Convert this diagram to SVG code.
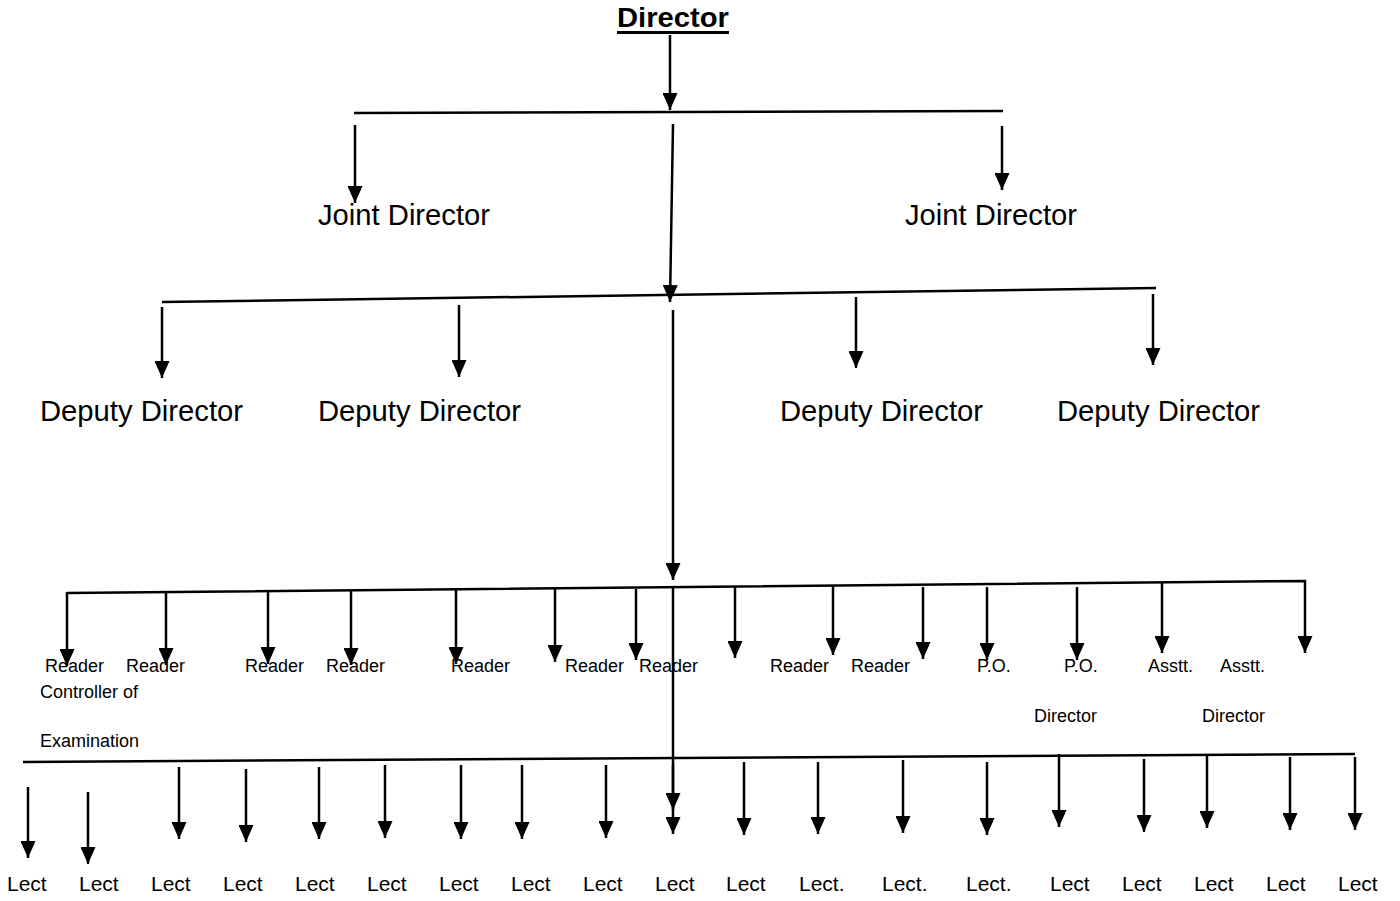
<svg xmlns="http://www.w3.org/2000/svg" width="1400" height="901" viewBox="0 0 1400 901">
<style>
text{font-family:"Liberation Sans",Arial,sans-serif;fill:#000}
.t0{font-size:28px;font-weight:bold}
.t1{font-size:29px}
.t2{font-size:18px}
.t3{font-size:21px}
.c line,.c path{stroke:#000;stroke-width:2.5;fill:none}
.c .a{marker-end:url(#ah)}
</style>
<defs>
<marker id="ah" markerUnits="userSpaceOnUse" markerWidth="17" markerHeight="15" refX="17" refY="7.5" orient="auto">
<path d="M0,0 L17,7.5 L0,15 z" fill="#000"/>
</marker>
</defs>
<rect width="1400" height="901" fill="#fff"/>
<g id="connectors" class="c">
<line class="a" x1="670" y1="35" x2="670" y2="110"/>
<line x1="354" y1="113" x2="1003" y2="111"/>
<line class="a" x1="355" y1="125" x2="355" y2="203"/>
<line class="a" x1="1002" y1="126" x2="1002" y2="190"/>
<line class="a" x1="673" y1="124" x2="670" y2="302"/>
<line x1="162" y1="302" x2="1156" y2="288"/>
<line class="a" x1="162" y1="307" x2="162" y2="378"/>
<line class="a" x1="459" y1="305" x2="459" y2="377"/>
<line class="a" x1="856" y1="297" x2="856" y2="368"/>
<line class="a" x1="1153" y1="294" x2="1153" y2="365"/>
<line class="a" x1="673" y1="310" x2="673" y2="580"/>
<path class="a" d="M67,593 L1305,581 L1305,653"/>
<line class="a" x1="67" y1="592" x2="67" y2="666"/>
<line class="a" x1="166" y1="592" x2="166" y2="665"/>
<line class="a" x1="268" y1="591" x2="268" y2="664"/>
<line class="a" x1="351" y1="590" x2="351" y2="665"/>
<line class="a" x1="456" y1="590" x2="456" y2="664"/>
<line class="a" x1="555" y1="589" x2="555" y2="662"/>
<line class="a" x1="636" y1="589" x2="636" y2="660"/>
<line class="a" x1="735" y1="587" x2="735" y2="658"/>
<line class="a" x1="833" y1="585" x2="833" y2="655"/>
<line class="a" x1="923" y1="587" x2="923" y2="659"/>
<line class="a" x1="987" y1="587" x2="987" y2="660"/>
<line class="a" x1="1077" y1="587" x2="1077" y2="660"/>
<line class="a" x1="1162" y1="583" x2="1162" y2="653"/>
<line class="a" x1="673" y1="587" x2="673" y2="810"/>
<line x1="23" y1="762" x2="1355" y2="754"/>
<line class="a" x1="28" y1="787" x2="28" y2="858"/>
<line class="a" x1="88" y1="792" x2="88" y2="864"/>
<line class="a" x1="179" y1="767" x2="179" y2="839"/>
<line class="a" x1="246" y1="769" x2="246" y2="842"/>
<line class="a" x1="319" y1="767" x2="319" y2="839"/>
<line class="a" x1="385" y1="765" x2="385" y2="838"/>
<line class="a" x1="461" y1="765" x2="461" y2="839"/>
<line class="a" x1="522" y1="765" x2="522" y2="839"/>
<line class="a" x1="606" y1="765" x2="606" y2="838"/>
<line class="a" x1="673" y1="765" x2="673" y2="834"/>
<line class="a" x1="744" y1="762" x2="744" y2="835"/>
<line class="a" x1="818" y1="762" x2="818" y2="834"/>
<line class="a" x1="903" y1="760" x2="903" y2="833"/>
<line class="a" x1="987" y1="762" x2="987" y2="835"/>
<line class="a" x1="1059" y1="754" x2="1059" y2="827"/>
<line class="a" x1="1144" y1="759" x2="1144" y2="832"/>
<line class="a" x1="1207" y1="756" x2="1207" y2="828"/>
<line class="a" x1="1290" y1="757" x2="1290" y2="830"/>
<line class="a" x1="1355" y1="757" x2="1355" y2="830"/>
</g>
<g id="director"><text class="t0" x="617" y="27" textLength="112" lengthAdjust="spacingAndGlyphs">Director</text><rect x="617" y="31" width="112" height="3" fill="#000"/></g>
<g id="joint1"><text class="t1" x="318" y="225" textLength="172" lengthAdjust="spacingAndGlyphs">Joint Director</text></g>
<g id="joint2"><text class="t1" x="905" y="225" textLength="172" lengthAdjust="spacingAndGlyphs">Joint Director</text></g>
<g id="deputy1"><text class="t1" x="40" y="421" textLength="203" lengthAdjust="spacingAndGlyphs">Deputy Director</text></g>
<g id="deputy2"><text class="t1" x="318" y="421" textLength="203" lengthAdjust="spacingAndGlyphs">Deputy Director</text></g>
<g id="deputy3"><text class="t1" x="780" y="421" textLength="203" lengthAdjust="spacingAndGlyphs">Deputy Director</text></g>
<g id="deputy4"><text class="t1" x="1057" y="421" textLength="203" lengthAdjust="spacingAndGlyphs">Deputy Director</text></g>
<g id="reader1"><text class="t2" x="45" y="672">Reader</text></g>
<g id="reader2"><text class="t2" x="126" y="672">Reader</text></g>
<g id="reader3"><text class="t2" x="245" y="672">Reader</text></g>
<g id="reader4"><text class="t2" x="326" y="672">Reader</text></g>
<g id="reader5"><text class="t2" x="451" y="672">Reader</text></g>
<g id="reader6"><text class="t2" x="565" y="672">Reader</text></g>
<g id="reader7"><text class="t2" x="639" y="672">Reader</text></g>
<g id="reader8"><text class="t2" x="770" y="672">Reader</text></g>
<g id="reader9"><text class="t2" x="851" y="672">Reader</text></g>
<g id="po1"><text class="t2" x="977" y="672">P.O.</text></g>
<g id="po2"><text class="t2" x="1064" y="672">P.O.</text><text class="t2" x="1034" y="722">Director</text></g>
<g id="asstt1"><text class="t2" x="1148" y="672">Asstt.</text></g>
<g id="asstt2"><text class="t2" x="1220" y="672">Asstt.</text><text class="t2" x="1202" y="722">Director</text></g>
<g id="coe"><text class="t2" x="40" y="698">Controller of</text><text class="t2" x="40" y="747">Examination</text></g>
<g id="lect1"><text class="t3" x="7" y="891">Lect</text></g>
<g id="lect2"><text class="t3" x="79" y="891">Lect</text></g>
<g id="lect3"><text class="t3" x="151" y="891">Lect</text></g>
<g id="lect4"><text class="t3" x="223" y="891">Lect</text></g>
<g id="lect5"><text class="t3" x="295" y="891">Lect</text></g>
<g id="lect6"><text class="t3" x="367" y="891">Lect</text></g>
<g id="lect7"><text class="t3" x="439" y="891">Lect</text></g>
<g id="lect8"><text class="t3" x="511" y="891">Lect</text></g>
<g id="lect9"><text class="t3" x="583" y="891">Lect</text></g>
<g id="lect10"><text class="t3" x="655" y="891">Lect</text></g>
<g id="lect11"><text class="t3" x="726" y="891">Lect</text></g>
<g id="lect12"><text class="t3" x="799" y="891">Lect.</text></g>
<g id="lect13"><text class="t3" x="882" y="891">Lect.</text></g>
<g id="lect14"><text class="t3" x="966" y="891">Lect.</text></g>
<g id="lect15"><text class="t3" x="1050" y="891">Lect</text></g>
<g id="lect16"><text class="t3" x="1122" y="891">Lect</text></g>
<g id="lect17"><text class="t3" x="1194" y="891">Lect</text></g>
<g id="lect18"><text class="t3" x="1266" y="891">Lect</text></g>
<g id="lect19"><text class="t3" x="1338" y="891">Lect</text></g>
</svg>
